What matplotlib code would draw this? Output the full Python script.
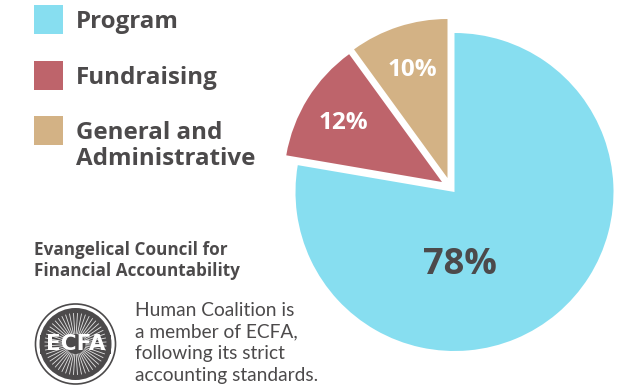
import numpy as np
import matplotlib
matplotlib.use("Agg")
import matplotlib.pyplot as plt
from matplotlib.patches import Circle, Rectangle

categories = ["Program", "Fundraising", "General and\nAdministrative"]
values = [77.7, 12.3, 10]
pct_labels = ["78%", "12%", "10%"]
colors = ["#87DEF0", "#BE646B", "#D3B285"]
heading = "Evangelical Council for\nFinancial Accountability"
member = ["Human Coalition is", "a member of ECFA,", "following its strict", "accounting standards."]
dark = "#4C4A4B"

plt.rcParams["font.family"] = ["Lato", "DejaVu Sans"]
BOLD = ["Open Sans", "DejaVu Sans"]
W, H = 630, 385
fig = plt.figure(figsize=(W/100, H/100), dpi=100)
ax = fig.add_axes([0, 0, 1, 1])

def Y(py):
    return H - py

centers = [(454.5, 192), (442, 182), (447.5, 178)]
radii = [159, 158, 159]
for i, (c, r) in enumerate(zip(centers, radii)):
    wedges, _ = ax.pie(values, colors=colors, startangle=90, counterclock=False,
                       center=(c[0], Y(c[1])), radius=r, wedgeprops=dict(linewidth=0))
    for j, w in enumerate(wedges):
        if j != i:
            w.set_visible(False)

ax.set_xlim(0, W)
ax.set_ylim(0, H)
ax.set_aspect("equal")
ax.axis("off")

ax.text(460, Y(264.5), pct_labels[0], color=dark, fontsize=26, fontweight="bold", family=BOLD, ha="center", va="center")
ax.text(343.5, Y(123), pct_labels[1], color="white", fontsize=17.5, fontweight="bold", family=BOLD, ha="center", va="center")
ax.text(412.5, Y(70), pct_labels[2], color="white", fontsize=17.5, fontweight="bold", family=BOLD, ha="center", va="center")

for py, c, lab, ty in zip([5, 61, 116], colors, categories, [22, 78, 146]):
    ax.add_patch(Rectangle((34, Y(py + 29)), 29, 29, fc=c, ec="none"))
    ax.text(76, Y(ty), lab, color=dark, fontsize=17.4, fontweight="bold", family=BOLD, va="center", ha="left", linespacing=1.14)

ax.text(34, Y(260.5), heading, color=dark, fontsize=12.3, fontweight="bold", family=BOLD, va="center", ha="left", linespacing=1.16)

for py, s in zip([311, 332, 353, 375], member):
    ax.text(135, Y(py), s, color=dark, fontsize=13.8, va="center", ha="left")

# ECFA seal
cx, cy = 75.5, Y(344)
ax.add_patch(Circle((cx, cy), 40, fc="white", ec=dark, lw=1.2))
ax.add_patch(Circle((cx, cy), 36, fc=dark, ec="none"))
for a in np.arange(0, 360, 7.5):
    t = np.deg2rad(a + 3.75)
    ax.plot([cx + 10*np.cos(t), cx + 31*np.cos(t)], [cy + 10*np.sin(t), cy + 31*np.sin(t)],
            color="white", lw=0.6, alpha=0.85, solid_capstyle="butt")
ax.add_patch(Rectangle((cx - 35.5, cy - 9.5), 71, 19, fc=dark, ec="none"))
ax.text(cx, cy, "ECFA", color="white", fontsize=15.5, fontweight="bold", family=["DejaVu Sans"], ha="center", va="center")

fig.savefig("out.png", dpi=100)
